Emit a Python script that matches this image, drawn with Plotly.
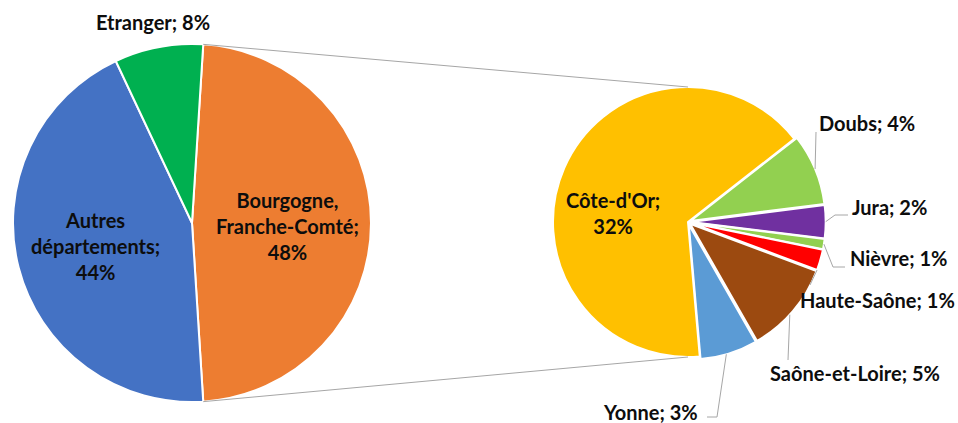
import math
import plotly.graph_objects as go

# ---------------- data ----------------
main_labels = ["Bourgogne,<br>Franche-Comté", "Autres<br>départements", "Etranger"]
main_values = [48, 44, 8]
main_colors = ["#ED7D31", "#4472C4", "#00B050"]

sub_labels = ["Doubs", "Jura", "Nièvre", "Haute-Saône", "Saône-et-Loire", "Yonne", "Côte-d'Or"]
sub_values = [4.1, 1.9, 0.6, 1.2, 5.3, 3.3, 31.6]
sub_colors = ["#92D050", "#7030A0", "#92D050", "#FF0000", "#9C4A10", "#5B9BD5", "#FFC000"]
sub_pull = [0.02, 0.02, 0.02, 0.02, 0.02, 0.02, 0.0]

# ---------------- layout geometry (pixels) ----------------
W, H = 958, 423
L_CX, L_CY, L_R = 192, 223, 179
R_CX, R_CY, R_R = 688, 222, 135
MAXPULL = max(sub_pull)
main_rot = 90 - main_values[0] / sum(main_values) * 360 / 2
sub_rot = 52

FONT = "Lato, Liberation Sans, sans-serif"
FSIZE = 20
TXT = "#0D0D0D"
GREY = "#A6A6A6"


def px(x, y):
    return x / W, 1 - y / H


def pt(cx, cy, r, ang):
    a = math.radians(ang)
    return cx + r * math.sin(a), cy - r * math.cos(a)


fig = go.Figure()

lx0, ly1 = px(L_CX - L_R, L_CY - L_R)
lx1, ly0 = px(L_CX + L_R, L_CY + L_R)
fig.add_trace(go.Pie(
    labels=[l.replace("<br>", " ") for l in main_labels], values=main_values,
    marker=dict(colors=main_colors, line=dict(color="white", width=2)),
    sort=False, direction="clockwise", rotation=main_rot,
    textinfo="none", hoverinfo="label+percent",
    domain=dict(x=[lx0, lx1], y=[ly0, ly1]), showlegend=False,
))

half = R_R * (1 + MAXPULL)
rx0, ry1 = px(R_CX - half, R_CY - half)
rx1, ry0 = px(R_CX + half, R_CY + half)
fig.add_trace(go.Pie(
    labels=sub_labels, values=sub_values, pull=sub_pull,
    marker=dict(colors=sub_colors, line=dict(color="white", width=2)),
    sort=False, direction="clockwise", rotation=sub_rot,
    textinfo="none", hoverinfo="label+value",
    domain=dict(x=[rx0, rx1], y=[ry0, ry1]), showlegend=False,
))

shapes = []
# connector lines between the two pies
tot_main = sum(main_values)
a_start = main_rot
a_end = main_rot + main_values[0] / tot_main * 360
for a_l, a_r in [(a_start, 0), (a_end, 180)]:
    x0, y0 = pt(L_CX, L_CY, L_R, a_l)
    x1, y1 = pt(R_CX, R_CY, R_R, a_r)
    (X0, Y0), (X1, Y1) = px(x0, y0), px(x1, y1)
    shapes.append(dict(type="line", xref="paper", yref="paper", x0=X0, y0=Y0, x1=X1, y1=Y1,
                       line=dict(color=GREY, width=1)))

annotations = []


def ann(text, x, y, xanchor="center"):
    X, Y = px(x, y)
    annotations.append(dict(text=text, x=X, y=Y, xref="paper", yref="paper", xanchor=xanchor,
                            yanchor="middle", showarrow=False, align="center",
                            font=dict(family=FONT, size=FSIZE, color=TXT, weight="bold")))


pct_main = [round(v / tot_main * 100) for v in main_values]
ann(f"{main_labels[0]};<br>{pct_main[0]}%", 287, 226)
ann(f"{main_labels[1]};<br>{pct_main[1]}%", 95, 246)
ann(f"{main_labels[2]}; {pct_main[2]}%", 153, 22)

# sub pie labels
sub_pct = [round(v) for v in sub_values]
ann(f"{sub_labels[6]};<br>{sub_pct[6]}%", 613, 213)

# label positions / leader lines for the small slices: (text x, text y, anchor, attach fraction, path)
label_pos = [
    (817, 123, "left", 0.5, [(816, 132)]),
    (850, 207, "left", 0.5, [(835, 215), (848, 215)]),
    (848, 258, "left", 0.5, [(833, 267), (845, 267)]),
    (798, 300, "left", 1.0, [(810, 285)]),
    (768, 373, "left", 0.55, [(788, 360)]),
    (700, 412, "right", 0.55, [(717, 417), (707, 417)]),
]
tot_sub = sum(sub_values)
ang = sub_rot
for i, (tx, ty, anc, frac, path) in enumerate(label_pos):
    span = sub_values[i] / tot_sub * 360
    a_att = ang + span * frac
    mid = ang + span / 2
    pcx, pcy = pt(R_CX, R_CY, R_R * sub_pull[i], mid)
    sx, sy = pt(pcx, pcy, R_R, a_att)
    pts = [(sx, sy)] + path
    d = "M " + " L ".join(f"{px(x, y)[0]} {px(x, y)[1]}" for x, y in pts)
    shapes.append(dict(type="path", xref="paper", yref="paper", path=d,
                       line=dict(color=GREY, width=1)))
    ann(f"{sub_labels[i]}; {sub_pct[i]}%", tx, ty, anc)
    ang += span

fig.update_layout(
    width=W, height=H, margin=dict(l=0, r=0, t=0, b=0),
    paper_bgcolor="white", plot_bgcolor="white",
    shapes=shapes, annotations=annotations,
)
fig.write_html("out.html", config={"displayModeBar": False},
               post_script="document.body.style.margin='0';document.body.style.overflow='hidden';")
